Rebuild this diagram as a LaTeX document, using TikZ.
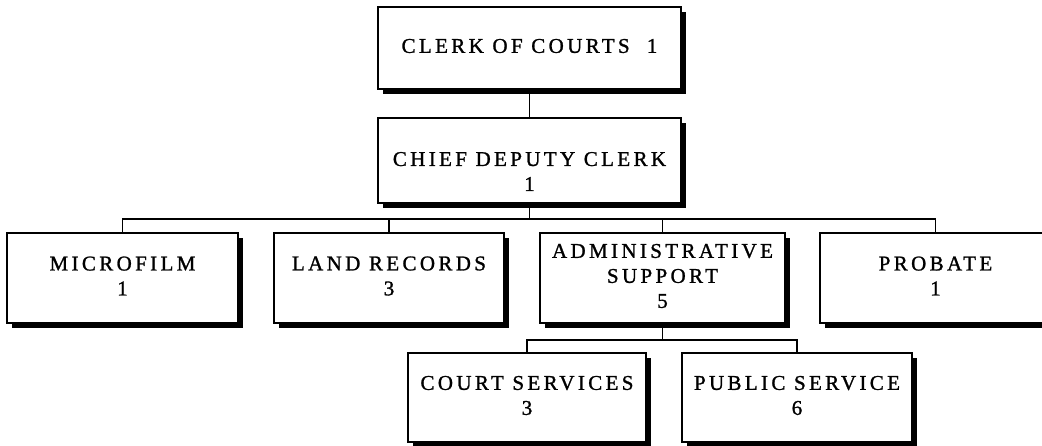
\documentclass[tikz,border=0pt]{standalone}
\usepackage{fontspec}
\setmainfont{Liberation Serif}[LetterSpace=16, FakeBold=1.2]
\usetikzlibrary{shadows}
\begin{document}
\begin{tikzpicture}[x=1pt,y=-1pt,
  orgbox/.style={draw=black, line width=1.2pt, fill=white, rectangle,
    inner sep=0pt, minimum height=#1,
    drop shadow={shadow xshift=5pt, shadow yshift=-5pt, opacity=1, fill=black}},
  orgbox/.default=90pt,
  lbl/.style={align=center, font=\fontsize{21}{25}\selectfont, inner sep=0pt},
  link/.style={line width=1.2pt}]
\useasboundingbox (0,0) rectangle (1042,445);
\begin{scope}
\clip (0,0) rectangle (1042,445);
% boxes
\node[orgbox=82pt, minimum width=303pt] (clerk) at (529.5,48) {};
\node[orgbox=85pt, minimum width=303pt] (chief) at (529.5,160.5) {};
\node[orgbox, minimum width=231pt] (micro) at (122.5,278) {};
\node[orgbox, minimum width=230pt] (land) at (389,278) {};
\node[orgbox, minimum width=245pt] (admin) at (662.5,278) {};
\node[orgbox, minimum width=231pt] (probate) at (935.5,278) {};
\node[orgbox=89pt, minimum width=238pt] (court) at (527,397.5) {};
\node[orgbox=89pt, minimum width=230pt] (public) at (797,397.5) {};
% labels
\node[lbl] (tclerk) at ([yshift=2pt]clerk.center) {CLERK OF COURTS\ \ 1};
\node[lbl] (tchief) at ([yshift=-11pt]chief.center) {CHIEF DEPUTY CLERK\\1};
\node[lbl] (tmicro) at ([yshift=2pt]micro.center) {MICROFILM\\1};
\node[lbl] (tland) at ([yshift=2pt]land.center) {LAND RECORDS\\3};
\node[lbl] (tadmin) at ([yshift=2pt]admin.center) {ADMINISTRATIVE\\SUPPORT\\5};
\node[lbl] (tprobate) at ([yshift=2pt]probate.center) {PROBATE\\1};
\node[lbl] (tcourt) at ([yshift=2pt]court.center) {COURT SERVICES\\3};
\node[lbl] (tpublic) at ([yshift=2pt]public.center) {PUBLIC SERVICE\\6};
% connectors
\coordinate (bus) at (529.5,219);
\coordinate (subbus) at (662.5,340);
\draw[link] (clerk.south) -- (chief.north);
\draw[link] (chief.south) -- (bus);
\draw[link] (micro.north) -- (micro.north |- bus) -| (probate.north);
\draw[link] (land.north) -- (land.north |- bus);
\draw[link] (admin.north) -- (admin.north |- bus);
\draw[link] (admin.south) -- (subbus);
\draw[link] (court.north) -- (court.north |- subbus) -| (public.north);
\end{scope}
\end{tikzpicture}
\end{document}
